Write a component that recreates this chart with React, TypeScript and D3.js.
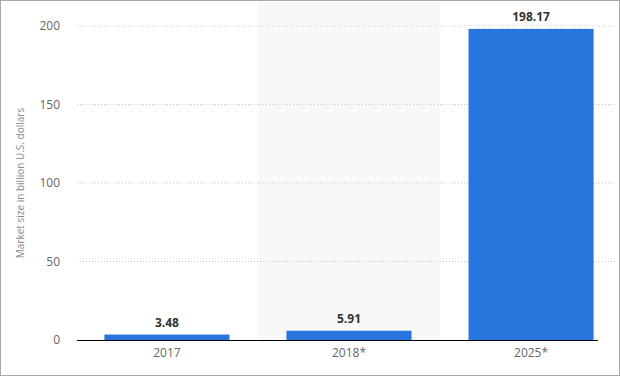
import React from "react";
import * as d3 from "d3";

const categories = ["2017", "2018*", "2025*"];
const values = [3.48, 5.91, 198.17];
const valueLabels = ["3.48", "5.91", "198.17"];
const yTicks = [0, 50, 100, 150, 200];

const W = 620;
const H = 376;

export default function App() {
  const x = d3.scaleBand<string>().domain(categories).range([76, 622]).paddingInner(0.313).paddingOuter(0.156);
  const band = d3.scaleBand<string>().domain(categories).range([76, 622]).padding(0);
  const y = d3.scaleLinear().domain([0, 200]).range([340, 26]);
  const font = "'Open Sans', 'DejaVu Sans', sans-serif";
  return (
    <svg width={W} height={H} style={{ position: "absolute", left: 0, top: 0, background: "#fff" }} fontFamily={font}>
      <rect x={0.5} y={0.5} width={W - 1} height={H - 1} fill="#fff" stroke="#a9a9a9" />
      <rect x={band("2018*")} y={2} width={band.bandwidth()} height={y(0) - 2} fill="#f8f8f8" />
      {yTicks.filter(t => t > 0).map(t => (
        <line key={t} x1={77} x2={616} y1={y(t)} y2={y(t)} stroke="#c8c8c8" strokeDasharray="1,2" />
      ))}
      {yTicks.map(t => (
        <text key={t} x={60} y={y(t)} dy="0.35em" textAnchor="end" fontSize={12} fill="#666">{t}</text>
      ))}
      <text transform={`translate(24,${y(100)}) rotate(-90)`} textAnchor="middle" fontSize={10} fill="#888">Market size in billion U.S. dollars</text>
      {categories.map((c, i) => (
        <g key={c}>
          <rect x={x(c)} y={y(values[i])} width={x.bandwidth()} height={y(0) - y(values[i])} fill="#2876dd" />
          <text x={(x(c) as number) + x.bandwidth() / 2} y={y(values[i]) - 8} textAnchor="middle" fontSize={12} fontWeight="bold" fill="#333">{valueLabels[i]}</text>
          <text x={(x(c) as number) + x.bandwidth() / 2} y={357} textAnchor="middle" fontSize={12} fill="#666">{c}</text>
        </g>
      ))}
      <line x1={77} x2={598} y1={y(0) + 0.5} y2={y(0) + 0.5} stroke="#000" />
    </svg>
  );
}
